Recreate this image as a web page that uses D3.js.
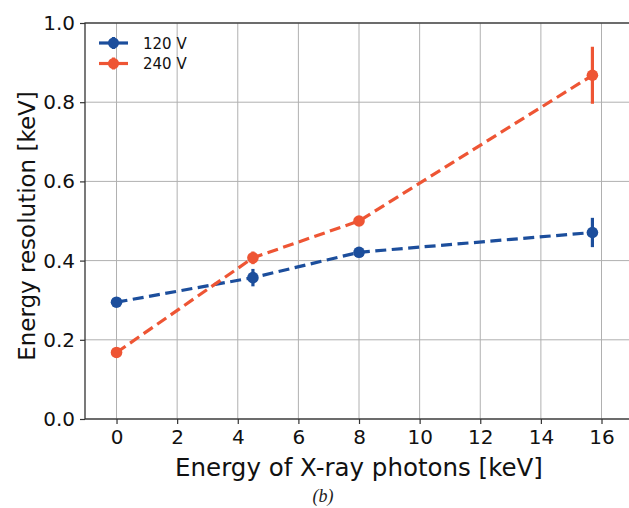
<!DOCTYPE html>
<html>
<head>
<meta charset="utf-8">
<script src="https://cdn.jsdelivr.net/npm/d3@7/dist/d3.min.js"></script>
<style>
  html, body { margin: 0; padding: 0; background: #fff; }
  svg { display: block; }
</style>
</head>
<body>
<svg id="chart" width="629" height="508"></svg>
<script>
// Photon energies (keV) at which the resolution was measured
const energies = [0, 4.5, 8, 15.7];

// Energy resolution (keV) and its uncertainty for each bias voltage
const res120 = [0.295, 0.357, 0.421, 0.471];
const err120 = [0.006, 0.022, 0.010, 0.037];
const res240 = [0.168, 0.407, 0.500, 0.868];
const err240 = [0.006, 0.016, 0.010, 0.072];

const seriesNames = ["120 V", "240 V"];
const seriesColors = ["#1c4e9c", "#ee5534"];

const xTicks = [0, 2, 4, 6, 8, 10, 12, 14, 16];
const yTicks = [0.0, 0.2, 0.4, 0.6, 0.8, 1.0];

const xLabel = "Energy of X-ray photons [keV]";
const yLabel = "Energy resolution [keV]";
const caption = "(b)";

const svg = d3.select("#chart");
const plotLeft = 85, plotRight = 650, plotTop = 23, plotBottom = 419;

const x = d3.scaleLinear().domain([-1.04, 17.6]).range([plotLeft, plotRight]);
const y = d3.scaleLinear().domain([0, 1]).range([plotBottom, plotTop]);

const font = "'DejaVu Sans', sans-serif";

// grid
const grid = svg.append("g").attr("stroke", "#b0b0b0").attr("stroke-width", 1);
xTicks.forEach(t => grid.append("line")
  .attr("x1", x(t)).attr("x2", x(t)).attr("y1", plotTop).attr("y2", plotBottom));
yTicks.forEach(t => grid.append("line")
  .attr("x1", plotLeft).attr("x2", plotRight).attr("y1", y(t)).attr("y2", y(t)));

// axes
const xAxis = d3.axisBottom(x).tickValues(xTicks).tickFormat(d3.format("d"))
  .tickSize(5).tickPadding(6);
const yAxis = d3.axisLeft(y).tickValues(yTicks).tickFormat(d3.format(".1f"))
  .tickSize(5).tickPadding(5);

const gx = svg.append("g").attr("transform", `translate(0,${plotBottom})`).call(xAxis);
const gy = svg.append("g").attr("transform", `translate(${plotLeft},0)`).call(yAxis);
[gx, gy].forEach(g => {
  g.select(".domain").remove();
  g.selectAll(".tick line").attr("stroke", "#333").attr("stroke-width", 1.2);
  g.selectAll(".tick text").attr("fill", "#111").style("font-family", font).style("font-size", "20px");
});

// frame
svg.append("rect")
  .attr("x", plotLeft).attr("y", plotTop)
  .attr("width", plotRight - plotLeft).attr("height", plotBottom - plotTop)
  .attr("fill", "none").attr("stroke", "#333").attr("stroke-width", 1.3);

// series
const allRes = [res120, res240];
const allErr = [err120, err240];
const line = d3.line().x(d => x(d[0])).y(d => y(d[1]));

allRes.forEach((vals, s) => {
  const pts = energies.map((e, i) => [e, vals[i], allErr[s][i]]);
  const g = svg.append("g");
  g.append("path")
    .attr("d", line(pts))
    .attr("fill", "none")
    .attr("stroke", seriesColors[s])
    .attr("stroke-width", 3.2)
    .attr("stroke-dasharray", "11,5.5");
  g.selectAll("line.err").data(pts).join("line")
    .attr("class", "err")
    .attr("x1", d => x(d[0])).attr("x2", d => x(d[0]))
    .attr("y1", d => y(d[1] - d[2])).attr("y2", d => y(d[1] + d[2]))
    .attr("stroke", seriesColors[s]).attr("stroke-width", 3.2);
  g.selectAll("circle").data(pts).join("circle")
    .attr("cx", d => x(d[0])).attr("cy", d => y(d[1]))
    .attr("r", 5.8).attr("fill", seriesColors[s]);
});

// legend
seriesNames.forEach((name, s) => {
  const ly = 43 + s * 20.5;
  const g = svg.append("g");
  g.append("line").attr("x1", 99).attr("x2", 128).attr("y1", ly).attr("y2", ly)
    .attr("stroke", seriesColors[s]).attr("stroke-width", 3.2);
  g.append("line").attr("x1", 113.5).attr("x2", 113.5).attr("y1", ly - 6).attr("y2", ly + 6)
    .attr("stroke", seriesColors[s]).attr("stroke-width", 3.2);
  g.append("circle").attr("cx", 113.5).attr("cy", ly).attr("r", 5.5).attr("fill", seriesColors[s]);
  g.append("text").attr("x", 143).attr("y", ly + 5.5).text(name)
    .attr("fill", "#111").style("font-family", font).style("font-size", "15px");
});

// axis titles
svg.append("text")
  .attr("x", 359).attr("y", 476).attr("text-anchor", "middle")
  .attr("fill", "#111").style("font-family", font).style("font-size", "24.5px")
  .text(xLabel);
svg.append("text")
  .attr("transform", "translate(35,226) rotate(-90)").attr("text-anchor", "middle")
  .attr("fill", "#111").style("font-family", font).style("font-size", "23px")
  .text(yLabel);

// panel caption
svg.append("text")
  .attr("x", 323).attr("y", 502).attr("text-anchor", "middle")
  .attr("fill", "#222").style("font-family", "'Liberation Serif', serif")
  .style("font-style", "italic").style("font-size", "18px")
  .text(caption);
</script>
</body>
</html>
